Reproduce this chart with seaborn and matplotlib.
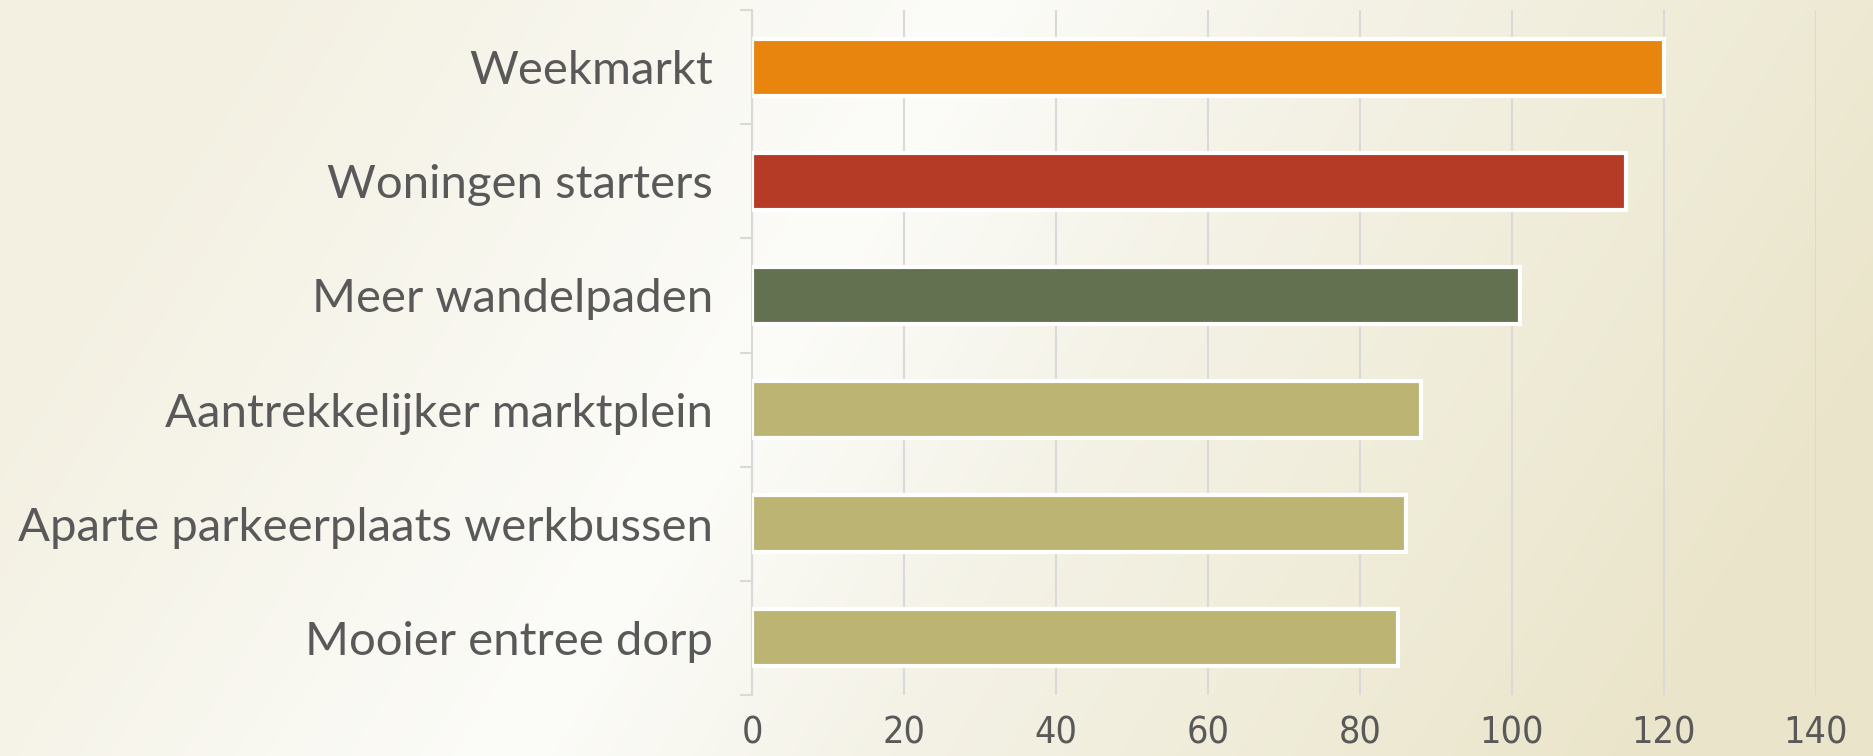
import numpy as np
import matplotlib.pyplot as plt
import seaborn as sns

categories = ["Weekmarkt", "Woningen starters", "Meer wandelpaden",
              "Aantrekkelijker marktplein", "Aparte parkeerplaats werkbussen",
              "Mooier entree dorp"]
values = [120, 115, 101, 88, 86, 85]
bar_colors = ["#E8850F", "#B53B26", "#637150", "#BCB473", "#BCB473", "#BCB473"]
x_ticks = [0, 20, 40, 60, 80, 100, 120, 140]

sns.set_theme(style="white")
plt.rcParams["font.family"] = ["Lato", "DejaVu Sans"]

fig = plt.figure(figsize=(18.73, 7.56), dpi=100)

# background gradient (cream -> almost white -> beige)
bg = fig.add_axes([0, 0, 1, 1], zorder=-1)
h, w = 200, 400
xx, yy = np.meshgrid(np.linspace(0, 1, w), np.linspace(0, 1, h))
u = np.clip(xx + 0.25 * (yy - 0.5), 0, 1)
stops = [0.0, 0.4, 0.6, 1.0]
cols = np.array([[0xF3, 0xF0, 0xE1], [0xFC, 0xFC, 0xF9],
                 [0xF4, 0xF2, 0xE6], [0xEA, 0xE5, 0xCA]]) / 255
img = np.dstack([np.interp(u, stops, cols[:, i]) for i in range(3)])
bg.imshow(img, aspect="auto", extent=[0, 1, 0, 1], origin="upper")
bg.axis("off")

ax = fig.add_axes([0.4015, 0.0807, 0.568, 0.906])
ax.set_facecolor("none")

sns.barplot(x=values, y=categories, hue=categories, palette=bar_colors,
            legend=False, orient="h", width=0.5, edgecolor="white",
            linewidth=3, saturation=1, ax=ax, zorder=3)

ax.set_xlim(0, 140)
ax.set_ylim(len(categories) - 0.5, -0.5)
ax.set_xticks(x_ticks)
ax.set_xticklabels([str(t) for t in x_ticks], fontsize=27, color="#595959",
                   family=["DejaVu Sans"], fontstretch="condensed",
                   fontweight="light")
ax.tick_params(axis="x", length=0, pad=15)
ax.tick_params(axis="y", which="major", length=0, pad=28,
               labelsize=34, labelcolor="#595959")
ax.set_yticks(np.arange(-0.5, len(categories), 1), minor=True)
ax.tick_params(axis="y", which="minor", left=True, length=9, width=1.5,
               color="#D9D9D9", direction="out")

ax.grid(axis="x", color="#D9D9D9", linewidth=1.5, zorder=0)
ax.set_axisbelow(True)
for s in ["top", "right", "bottom"]:
    ax.spines[s].set_visible(False)
ax.spines["left"].set_color("#D9D9D9")
ax.spines["left"].set_linewidth(1.5)
ax.set_xlabel("")
ax.set_ylabel("")

fig.savefig("out.png", dpi=100)
